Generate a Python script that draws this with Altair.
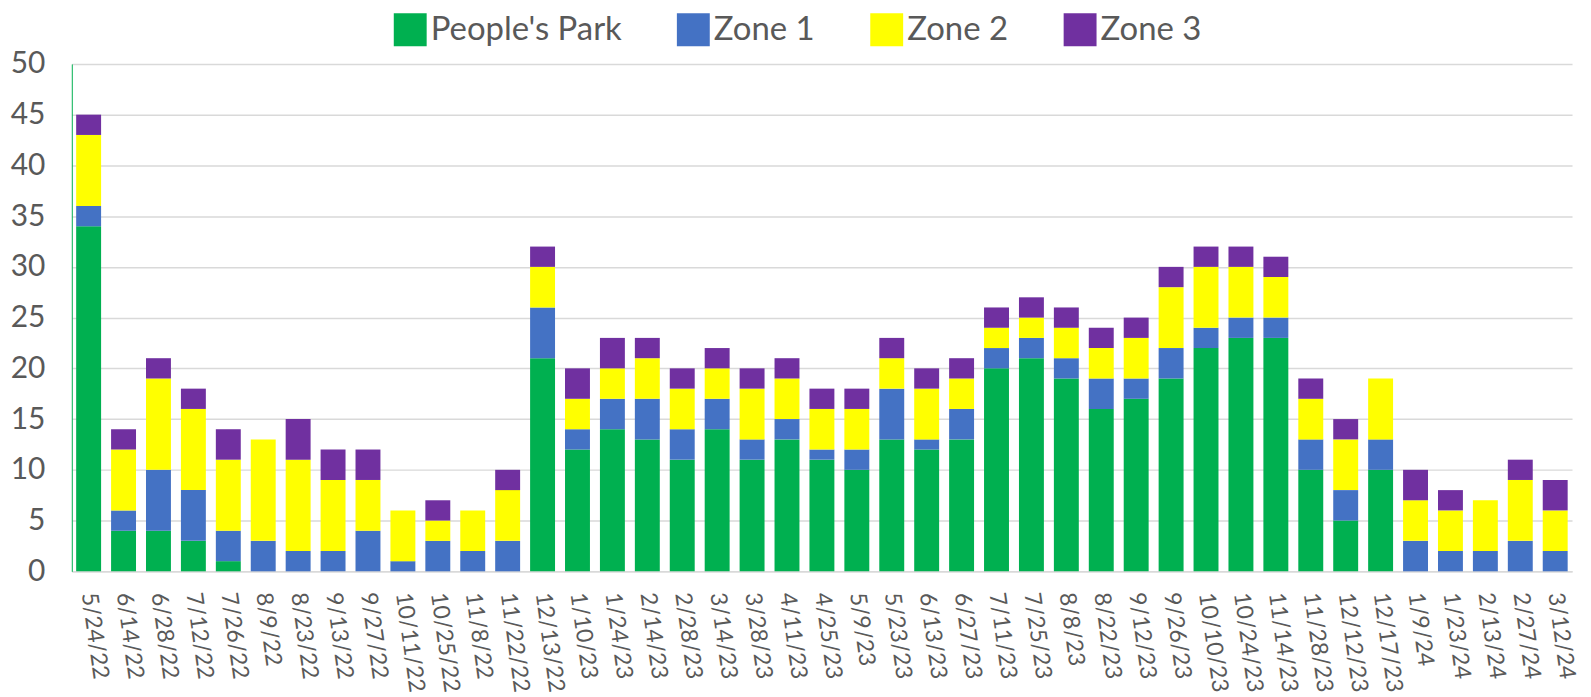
import altair as alt
import pandas as pd

dates = ["5/24/22", "6/14/22", "6/28/22", "7/12/22", "7/26/22", "8/9/22", "8/23/22",
         "9/13/22", "9/27/22", "10/11/22", "10/25/22", "11/8/22", "11/22/22", "12/13/22",
         "1/10/23", "1/24/23", "2/14/23", "2/28/23", "3/14/23", "3/28/23", "4/11/23",
         "4/25/23", "5/9/23", "5/23/23", "6/13/23", "6/27/23", "7/11/23", "7/25/23",
         "8/8/23", "8/22/23", "9/12/23", "9/26/23", "10/10/23", "10/24/23", "11/14/23",
         "11/28/23", "12/12/23", "12/17/23", "1/9/24", "1/23/24", "2/13/24", "2/27/24",
         "3/12/24"]

peoples_park = [34, 4, 4, 3, 1, 0, 0, 0, 0, 0, 0, 0, 0, 21, 12, 14, 13, 11, 14, 11, 13,
                11, 10, 13, 12, 13, 20, 21, 19, 16, 17, 19, 22, 23, 23, 10, 5, 10, 0, 0,
                0, 0, 0]
zone1 = [2, 2, 6, 5, 3, 3, 2, 2, 4, 1, 3, 2, 3, 5, 2, 3, 4, 3, 3, 2, 2, 1, 2, 5, 1, 3,
         2, 2, 2, 3, 2, 3, 2, 2, 2, 3, 3, 3, 3, 2, 2, 3, 2]
zone2 = [7, 6, 9, 8, 7, 10, 9, 7, 5, 5, 2, 4, 5, 4, 3, 3, 4, 4, 3, 5, 4, 4, 4, 3, 5, 3,
         2, 2, 3, 3, 4, 6, 6, 5, 4, 4, 5, 6, 4, 4, 5, 6, 4]
zone3 = [2, 2, 2, 2, 3, 0, 4, 3, 3, 0, 2, 0, 2, 2, 3, 3, 2, 2, 2, 2, 2, 2, 2, 2, 2, 2,
         2, 2, 2, 2, 2, 2, 2, 2, 2, 2, 2, 0, 3, 2, 0, 2, 3]

series_names = ["People's Park", "Zone 1", "Zone 2", "Zone 3"]
series_colors = ["#00b050", "#4472c4", "#ffff00", "#7030a0"]
y_ticks = [0, 5, 10, 15, 20, 25, 30, 35, 40, 45, 50]

rows = []
for i, d in enumerate(dates):
    for k, vals in enumerate([peoples_park, zone1, zone2, zone3]):
        if vals[i] > 0:
            rows.append({"date": d, "series": series_names[k], "order": k, "value": vals[i]})
df = pd.DataFrame(rows)

FONT = "Lato"
TXT = "#595959"

chart = alt.Chart(df).mark_bar().encode(
    x=alt.X("date:N", sort=dates,
            scale=alt.Scale(paddingInner=0.286, paddingOuter=0.125),
            axis=alt.Axis(title=None, labelAngle=82, labelFontSize=23, labelFont=FONT,
                          labelColor=TXT, ticks=False, tickSize=0, labelPadding=21,
                          domainColor="#d9d9d9", domainWidth=1.5, grid=False,
                          labelOverlap=False)),
    y=alt.Y("value:Q", stack="zero",
            scale=alt.Scale(domain=[0, 50], nice=False),
            axis=alt.Axis(title=None, values=y_ticks, labelFontSize=30, labelFont=FONT,
                          labelColor=TXT, ticks=False, tickSize=0, labelPadding=27,
                          domainColor="#00b050", domainWidth=1,
                          gridColor="#d9d9d9", gridWidth=1.5)),
    color=alt.Color("series:N",
                    scale=alt.Scale(domain=series_names, range=series_colors),
                    legend=alt.Legend(title=None, orient="none", direction="horizontal",
                                      legendX=323, legendY=-51,
                                      symbolType="square", symbolSize=1089,
                                      symbolStrokeWidth=0, labelFontSize=33,
                                      labelFont=FONT, labelColor=TXT, labelOffset=4,
                                      labelLimit=0, columnPadding=55, padding=0)),
    order=alt.Order("order:Q", sort="ascending"),
).properties(
    width=1505, height=509,
    padding={"left": 2, "top": 4, "right": 5, "bottom": 0},
).configure_view(stroke=None)

chart.save("out.html", embed_options={"renderer": "svg", "actions": False})
